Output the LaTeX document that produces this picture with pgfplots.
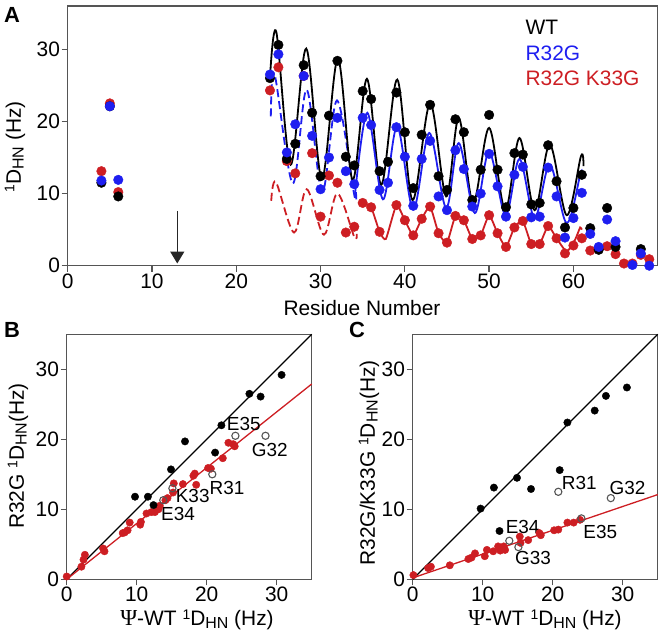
\documentclass[border=0pt]{standalone}
\usepackage{pgfplots}
\pgfplotsset{compat=1.18}
\usetikzlibrary{arrows.meta}
\usepackage{fontspec}
\setmainfont{Liberation Sans}
\newfontfamily\psifont{Liberation Serif}
\definecolor{myblue}{RGB}{30,30,240}
\definecolor{myred}{RGB}{205,30,35}
\definecolor{framec}{RGB}{85,85,85}
\newcommand\Dhn{\raisebox{0.6ex}{\fontsize{14}{14}\selectfont 1}D\raisebox{-0.25ex}{\fontsize{16}{16}\selectfont HN}}
\newcommand\fs{\fontsize{21}{25}\selectfont}
\pgfplotsset{
  myax/.style={scale only axis, clip=false,
    axis line style={framec, line width=1.3bp},
    every tick/.style={framec, line width=1.3bp},
    major tick length=6bp, tick align=outside,
    xtick pos=lower, ytick pos=left,
    tick label style={font=\fs, inner sep=1.5bp},
    /pgf/number format/assume math mode=true},
  pts/.style={only marks, mark=*, mark size=#1},
}
\begin{document}
\begin{tikzpicture}
\useasboundingbox (0,0) rectangle (660bp,635bp);
% ---------------- Panel A ----------------
\begin{axis}[myax, at={(67.7bp,369.3bp)}, anchor=south west,
  width=590bp, height=259.7bp,
  xmin=0, xmax=70, ymin=0, ymax=36,
  xtick={0,10,20,30,40,50,60}, ytick={0,10,20,30}]
% fitted curves
\addplot[myred, line width=1.8bp, dash pattern=on 8bp off 4bp, smooth, tension=0.55] coordinates {
(24.15,9.0) (24.7,11.6) (26.85,4.6) (28.35,10.6) (30.4,4.3) (32.0,10.0) (34.0,4.0) (34.3,4.4)};
\addplot[myblue, line width=1.8bp, dash pattern=on 8bp off 4bp, smooth, tension=0.55] coordinates {
(24.1,20.7) (24.55,26.5) (26.7,11.4) (28.35,24.4) (30.2,10.2) (31.95,22.9) (34.0,9.8) (34.2,10.2)};
\addplot[black, line width=1.8bp, smooth, tension=0.55] coordinates {
(24.0,26.0) (24.75,32.4) (26.45,14.0) (28.3,30.1) (30.15,12.0) (32.05,28.7) (33.8,11.9)
(35.5,25.9) (37.2,11.2) (39.1,25.8) (40.9,9.1) (43.0,22.5) (44.9,9.6) (46.4,20.5)
(48.1,8.7) (50.0,19.1) (51.9,7.7) (53.6,17.7) (55.4,7.7) (57.2,16.8) (59.2,7.0)
(60.9,15.2) (61.2,13.8)};
\addplot[myblue, line width=1.8bp, smooth, tension=0.55] coordinates {
(34.1,10.0) (35.55,21.2) (37.4,9.2) (39.1,19.3) (41.0,7.8) (42.9,18.4) (44.9,8.0)
(46.4,17.0) (48.3,7.3) (50.0,15.8) (51.95,7.0) (53.6,14.8) (55.4,6.6) (57.2,14.0)
(59.2,5.9) (60.85,12.8) (61.0,12.4)};
\addplot[myred, line width=1.8bp, smooth, tension=0.3] coordinates {
(35,8.7) (36,8.1) (37,4.7) (37.75,3.7) (39,8.4) (40,6.3) (41,4.2) (42,6.5) (43,8.2)
(44,4.5) (45,3.2) (46,6.9) (47,6.3) (48,3.7) (49,4.2) (50,7.0) (51,4.5) (52,2.6)
(53,5.3) (54,6.2) (55,3.0) (56,3.0) (57,5.5) (58,3.8) (59.2,1.95) (60.2,3.6)
(60.8,5.3) (61.0,5.0)};
% data points
\addplot[pts=4.8bp, myred, mark options={fill=myred, draw=myred}] coordinates {
(4,13.1) (5,22.5) (6,10.2) (24,24.3) (25,27.5) (26,14.5) (27,12.8) (28,26.3) (29,15.6)
(30,6.8) (31,12.5) (32,11.5) (33,4.6) (34,5.4) (35,8.7) (36,8.1) (37,4.7) (39,8.4)
(40,6.3) (41,4.2) (42,6.5) (43,8.2) (44,4.5) (45,3.2) (46,6.9) (47,6.3) (48,3.7)
(49,4.2) (50,7.0) (51,4.5) (52,2.6) (53,5.3) (54,6.2) (55,3.0) (56,3.0) (57,5.5)
(58,3.8) (59,1.7) (60,2.8) (61,3.8) (62,2.1) (63,2.4) (64,2.7) (65,1.6) (66,0.3)
(67,0.3) (68,1.5) (69,0.9)};
\addplot[pts=4.8bp, black, mark options={fill=black, draw=black}] coordinates {
(4,11.5) (5,22.1) (6,9.6) (24,26.0) (25,30.6) (26,14.8) (27,16.9) (28,27.8) (29,21.2)
(30,12.4) (31,20.8) (32,28.4) (33,15.1) (34,13.9) (35,24.2) (36,23.1) (37,13.1)
(38,14.4) (39,24.0) (40,18.5) (41,10.75) (42,18.15) (43,22.3) (44,12.4) (45,10.5)
(46,20.3) (47,18.5) (48,9.1) (49,13.3) (50,20.9) (51,13.3) (52,8.1) (53,15.6)
(54,15.4) (55,8.5) (56,8.7) (57,16.7) (58,11.7) (59,5.3) (60,8.0) (61,12.6) (62,5.2)
(63,2.2) (64,8.0) (65,2.6) (68,2.3)};
\addplot[pts=4.8bp, myblue, mark options={fill=myblue, draw=myblue}] coordinates {
(4,11.8) (5,22.1) (6,11.9) (24,26.5) (25,29.3) (26,15.7) (27,19.6) (28,26.3) (29,18.0)
(30,10.6) (31,15.0) (32,20.5) (33,13.1) (34,11.3) (35,20.5) (36,19.5) (37,10.5)
(38,11.5) (39,19.2) (40,15.1) (41,8.3) (42,14.8) (43,17.3) (44,9.6) (45,7.7)
(46,16.0) (47,13.4) (48,8.2) (49,10.0) (50,15.5) (51,11.0) (52,6.8) (53,12.6)
(54,13.7) (55,6.7) (56,6.8) (57,13.6) (58,9.6) (59,3.9) (60,6.6) (61,10.1) (62,4.4)
(63,2.6) (64,6.4) (65,3.4) (67,0.1) (68,1.7) (69,0.0)};
\draw[line width=1.5bp, black!85, -{Triangle[width=14bp,length=12bp]}] (axis cs:13,7.6) -- (axis cs:13,0.3);
\end{axis}
% legend A
\node[anchor=base west, font=\fs, black] at (522bp,600bp) {WT};
\node[anchor=base west, font=\fs, myblue] at (522bp,574bp) {R32G};
\node[anchor=base west, font=\fs, myred] at (522bp,549bp) {R32G K33G};
% ---------------- Panel B ----------------
\begin{axis}[myax, at={(66.7bp,55.7bp)}, anchor=south west,
  width=245bp, height=245bp,
  xmin=0, xmax=35, ymin=0, ymax=35,
  xtick={0,10,20,30}, ytick={0,10,20,30}]
\addplot[black, line width=1.3bp] coordinates {(0,0) (35,35)};
\addplot[myred, line width=1.3bp] coordinates {(0,0) (35,27.9)};
\addplot[pts=3.7bp, myred, mark options={fill=myred, draw=myred}] coordinates {
(0,0.4) (2.1,1.8) (2.4,2.8) (2.6,3.5) (5.2,4.4) (5.4,4.0) (8.0,6.6) (8.3,6.7) (8.7,7.0)
(9.0,8.1) (10.5,7.8) (10.6,8.2) (11.4,9.4) (12.1,9.6) (12.6,9.6) (13.1,10.0) (13.3,10.5)
(14.1,11.3) (14.4,11.6) (15.2,12.4) (15.3,13.7) (16.6,13.6) (18.1,14.8) (18.3,15.1)
(18.5,13.5) (20.2,15.9) (20.6,15.8) (22.3,17.3) (23.1,19.5) (23.8,19.3) (24.0,19.0)};
\addplot[pts=3.7bp, black, mark options={fill=black, draw=black}] coordinates {
(9.76,11.8) (11.6,11.8) (12.4,10.6) (14.9,15.7) (16.9,19.7) (21.2,18.1) (22.1,22.0)
(26.1,26.5) (27.7,26.1) (30.7,29.2)};
\addplot[pts=3.6bp, mark=o, framec, mark options={line width=1.1bp, draw=framec, fill=white}] coordinates {
(24.1,20.5) (28.4,20.5) (20.8,15.0) (15.1,13.0) (13.8,11.3)};
\node[font=\fontsize{19}{22}\selectfont] at (axis cs:25.3,22.2) {E35};
\node[font=\fontsize{19}{22}\selectfont] at (axis cs:29.0,18.5) {G32};
\node[font=\fontsize{19}{22}\selectfont] at (axis cs:22.9,13.1) {R31};
\node[font=\fontsize{19}{22}\selectfont] at (axis cs:18.0,11.9) {K33};
\node[font=\fontsize{19}{22}\selectfont] at (axis cs:15.9,9.4) {E34};
\end{axis}
% ---------------- Panel C ----------------
\begin{axis}[myax, at={(412.7bp,55.7bp)}, anchor=south west,
  width=245bp, height=245bp,
  xmin=0, xmax=35, ymin=0, ymax=35,
  xtick={0,10,20,30}, ytick={0,10,20,30}]
\addplot[black, line width=1.3bp] coordinates {(0,0) (35,35)};
\addplot[myred, line width=1.3bp] coordinates {(0,0.2) (35,12.1)};
\addplot[pts=3.7bp, myred, mark options={fill=myred, draw=myred}] coordinates {
(0.1,0.6) (2.2,1.6) (2.6,1.8) (5.3,2.0) (7.95,2.9) (8.4,3.1) (8.9,3.7) (10.3,3.3)
(10.6,4.2) (11.5,4.0) (12.2,4.7) (12.5,4.1) (13.0,4.7) (13.2,4.2) (15.3,6.1) (15.4,5.2)
(16.5,5.6) (18.1,6.6) (18.3,6.3) (20.2,7.0) (20.8,7.1) (22.1,8.1) (23.0,8.1) (23.9,8.5)};
\addplot[pts=3.7bp, black, mark options={fill=black, draw=black}] coordinates {
(9.7,10.1) (11.6,13.1) (12.4,6.9) (14.9,14.5) (16.9,12.9) (21.0,15.6) (22.1,22.4)
(26.0,24.1) (27.6,26.2) (30.6,27.4)};
\addplot[pts=3.6bp, mark=o, framec, mark options={line width=1.1bp, draw=framec, fill=white}] coordinates {
(20.8,12.5) (28.3,11.6) (24.1,8.7) (13.8,5.5) (15.1,4.6)};
\node[font=\fontsize{19}{22}\selectfont] at (axis cs:23.8,13.7) {R31};
\node[font=\fontsize{19}{22}\selectfont] at (axis cs:30.7,13.0) {G32};
\node[font=\fontsize{19}{22}\selectfont] at (axis cs:26.8,6.8) {E35};
\node[font=\fontsize{19}{22}\selectfont] at (axis cs:15.7,7.5) {E34};
\node[font=\fontsize{19}{22}\selectfont] at (axis cs:17.2,3.0) {G33};
\end{axis}
% ---------------- labels ----------------
\node[font=\fontsize{22}{26}\selectfont\bfseries] at (12bp,620.5bp) {A};
\node[font=\fontsize{22}{26}\selectfont\bfseries] at (12bp,305bp) {B};
\node[font=\fontsize{22}{26}\selectfont\bfseries] at (357bp,305bp) {C};
\node[font=\fs, rotate=90] at (15bp,488bp) {\Dhn\ (Hz)};
\node[font=\fs] at (362bp,327bp) {Residue Number};
\node[font=\fs, rotate=90] at (18bp,179bp) {R32G \Dhn(Hz)};
\node[font=\fs, rotate=90] at (369bp,172bp) {R32G/K33G \Dhn(Hz)};
\node[font=\fs] at (197bp,15bp) {{\psifont\fontsize{23}{25}\selectfont Ψ}-WT \Dhn\ (Hz)};
\node[font=\fs] at (545bp,15bp) {{\psifont\fontsize{23}{25}\selectfont Ψ}-WT \Dhn\ (Hz)};
\end{tikzpicture}
\end{document}
